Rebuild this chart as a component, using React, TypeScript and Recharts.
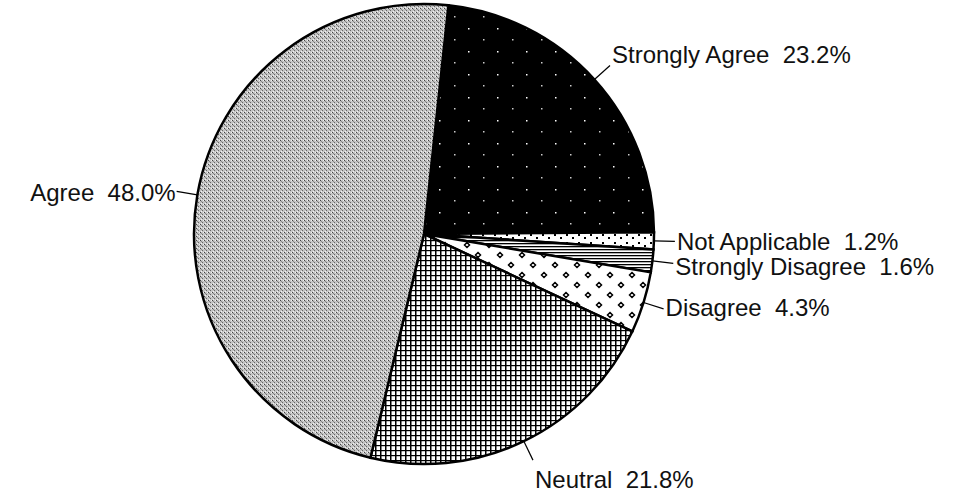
import { PieChart, Pie, Cell } from 'recharts';

// clockwise from the top, same order as the picture
const categories = ['Strongly Agree', 'Not Applicable', 'Strongly Disagree', 'Disagree', 'Neutral', 'Agree'];
const percents = [23.2, 1.2, 1.6, 4.3, 21.8, 48.0];
const percentLabels = ['23.2%', '1.2%', '1.6%', '4.3%', '21.8%', '48.0%'];

const fills = ['url(#pSA)', 'url(#pNA)', 'url(#pSD)', 'url(#pD)', 'url(#pN)', 'url(#pA)'];
// vertical nudge of each label text relative to the end of its leader line
const labelNudge = [-11, 0, 3, -1, 19, 1];

const chartData = categories.map((name, i) => ({ name, value: percents[i], pct: percentLabels[i] }));

const RADIAN = Math.PI / 180;

function renderLabel(props: any) {
    const { cx, cy, midAngle, outerRadius, index } = props;
    const cos = Math.cos(-midAngle * RADIAN);
    const sin = Math.sin(-midAngle * RADIAN);
    const sx = cx + outerRadius * cos;
    const sy = cy + outerRadius * sin;
    const ex = cx + (outerRadius + 21) * cos;
    const ey = cy + (outerRadius + 21) * sin;
    const left = cos < 0;
    return (
        <g key={`lbl-${index}`}>
            <line x1={sx} y1={sy} x2={ex} y2={ey} stroke="#000" strokeWidth={1.2} />
            <text
                x={left ? ex - 1 : ex + 2}
                y={ey + labelNudge[index]}
                textAnchor={left ? 'end' : 'start'}
                dominantBaseline="central"
                fill="#111"
                fontSize={24}
                fontFamily="'Liberation Sans', Arial, sans-serif"
                style={{ whiteSpace: 'pre' }}
            >
                {`${chartData[index].name}  ${chartData[index].pct}`}
            </text>
        </g>
    );
}

export default function App() {
    return (
        <div style={{ position: 'absolute', left: 0, top: 0, width: 963, height: 495, background: '#fff' }}>
            <PieChart width={963} height={495} margin={{ top: 0, right: 0, bottom: 0, left: 0 }}>
                <defs>
                    <pattern id="pSA" width="29" height="23" patternUnits="userSpaceOnUse">
                        <rect width="29" height="23" fill="#000" />
                        <rect x="4" y="5" width="1.5" height="1.5" fill="#fff" />
                        <rect x="19" y="16" width="1.5" height="1.5" fill="#ccc" />
                    </pattern>
                    <pattern id="pNA" width="12" height="8" patternUnits="userSpaceOnUse">
                        <rect width="12" height="8" fill="#fff" />
                        <rect x="2" y="2" width="2" height="2" fill="#000" />
                        <rect x="8" y="5" width="2" height="2" fill="#000" />
                    </pattern>
                    <pattern id="pSD" width="6" height="3" patternUnits="userSpaceOnUse">
                        <rect width="6" height="3" fill="#fff" />
                        <rect y="0" width="6" height="1.3" fill="#000" />
                    </pattern>
                    <pattern id="pD" width="22" height="20" patternUnits="userSpaceOnUse">
                        <rect width="22" height="20" fill="#fff" />
                        <polygon points="5,2.5 7.5,5 5,7.5 2.5,5" fill="#fff" stroke="#000" strokeWidth="1.5" />
                        <polygon points="16,12.5 18.5,15 16,17.5 13.5,15" fill="#fff" stroke="#000" strokeWidth="1.5" />
                    </pattern>
                    <pattern id="pN" width="5" height="5" patternUnits="userSpaceOnUse">
                        <rect width="5" height="5" fill="#fff" />
                        <rect x="0" y="0" width="1.5" height="5" fill="#000" />
                        <rect x="0" y="0" width="5" height="1.2" fill="#000" />
                    </pattern>
                    <pattern id="pA" width="4" height="4" patternUnits="userSpaceOnUse">
                        <rect width="4" height="4" fill="#c4c4c4" />
                        <rect x="0" y="0" width="1" height="1" fill="#444" />
                        <rect x="2" y="2" width="1" height="1" fill="#666" />
                        <rect x="1" y="1" width="1" height="1" fill="#888" />
                        <rect x="3" y="0" width="1" height="1" fill="#f2f2f2" />
                        <rect x="1" y="3" width="1" height="1" fill="#f2f2f2" />
                    </pattern>
                </defs>
                <Pie
                    data={chartData}
                    dataKey="value"
                    nameKey="name"
                    cx={424}
                    cy={234}
                    outerRadius={230}
                    startAngle={83.9}
                    endAngle={-276.1}
                    stroke="#000"
                    strokeWidth={2.5}
                    label={renderLabel}
                    labelLine={false}
                    isAnimationActive={false}
                >
                    {chartData.map((entry, i) => (
                        <Cell key={entry.name} fill={fills[i]} stroke="#000" strokeWidth={2.5} />
                    ))}
                </Pie>
            </PieChart>
        </div>
    );
}
